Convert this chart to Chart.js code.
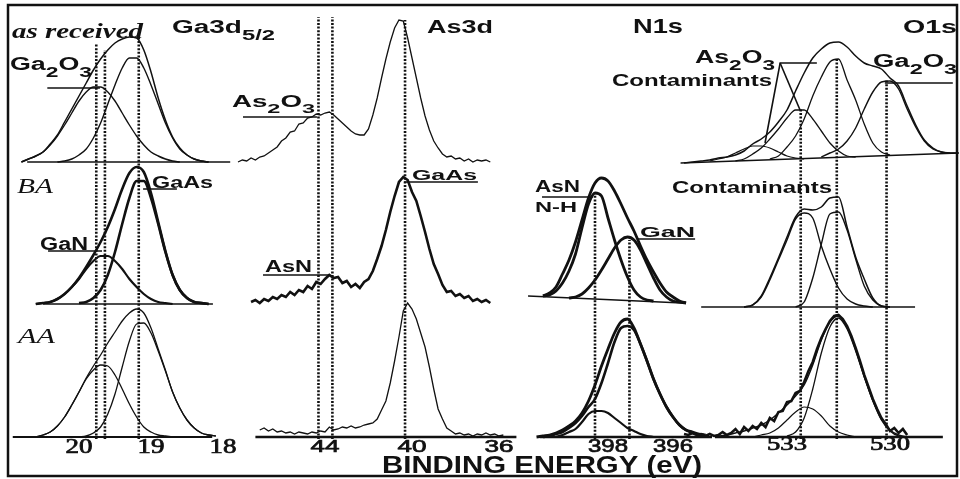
<!DOCTYPE html>
<html>
<head>
<meta charset="utf-8">
<title>XPS Ga3d / As3d / N1s / O1s</title>
<script src="https://cdn.jsdelivr.net/npm/chart.js@4.4.1/dist/chart.umd.min.js"></script>
<style>
  html, body { margin: 0; padding: 0; background: #fff; }
  #xps { display: block; }
</style>
</head>
<body>
<canvas id="xps" width="960" height="479"></canvas>
<script>
const _ = null;

// ---------- Ga3d 5/2 (binding energy, eV) ----------
const gaEv = [20.9,20.8,20.7,20.6,20.5,20.4,20.3,20.2,20.1,20.0,19.9,19.8,19.7,19.6,19.5,19.4,19.3,19.2,19.1,19.0,18.9,18.8,18.7,18.6,18.5,18.4,18.3,18.2,18.1];
// as received
const gaRecEnv = [_,0,3,6,10,18,27,40,53,66,79,92,103,112,119,123,125,124,112,90,64,42,25,14,7,3,1,0,_];
const gaRecOx  = [_,0,3,6,10,17,26,37,49,61,70,75,75,70,61,49,37,26,17,10,6,3,1,0,_,_,_,_,_];
const gaRecAs  = [_,_,_,_,_,_,0,1,3,7,13,24,39,58,77,94,104,104,94,77,58,39,24,13,7,3,1,0,_];
// BA
const gaBaEnv = [_,_,_,0,1,2,5,10,17,26,37,49,62,77,95,115,131,137,132,111,82,53,29,14,6,2,1,0,_];
const gaBaAs  = [_,_,_,_,_,_,_,_,_,1,2,6,14,29,52,80,106,123,123,106,80,52,29,14,6,2,1,0,_];
const gaBaN   = [_,_,_,0,1,2,5,10,17,25,35,43,48,48,43,35,25,17,10,5,2,1,0,_,_,_,_,_,_];
// AA
const gaAaEnv = [_,_,_,0,2,5,11,20,32,45,59,71,82,94,105,116,124,128,124,109,88,67,45,29,17,9,4,2,1];
const gaAaN   = [_,_,_,0,2,5,11,20,32,45,58,67,72,71,62,48,33,20,10,5,2,1,0,_,_,_,_,_,_];
const gaAaAs  = [_,_,_,_,_,_,_,_,_,0,1,4,10,23,43,70,96,113,114,104,86,66,45,29,17,9,4,2,1];
const gaTicks = [20, 19, 18];
const gaRefEv = [19.76, 19.64, 19.17];
const gaRefTop = [394, 387, 404];

// ---------- As3d ----------
const asEv = [48.0,47.8,47.6,47.4,47.2,47.0,46.8,46.6,46.4,46.2,46.0,45.8,45.6,45.4,45.2,45.0,44.8,44.6,44.4,44.2,44.0,43.8,43.6,43.4,43.2,43.0,42.8,42.6,42.4,42.2,42.0,41.8,41.6,41.4,41.2,41.0,40.8,40.6,40.4,40.2,40.0,39.8,39.6,39.4,39.2,39.0,38.8,38.6,38.4,38.2,38.0,37.8,37.6,37.4,37.2,37.0,36.8,36.6,36.4,36.2,36.0,35.8];
const asRec = [0,2,1,4,2,5,6,9,12,15,21,24,30,31,38,39,44,45,48,47,49,50,47,43,39,35,31,28,27,27,33,47,64,84,103,120,134,142,141,124,104,84,64,46,32,21,14,8,5,6,3,4,1,3,0,2,1,2,0,_,_,_];
const asBa  = [_,_,_,2,4,1,5,3,7,5,9,7,12,9,14,12,18,15,22,20,25,29,26,27,21,23,17,20,16,22,25,33,45,58,74,92,108,122,127,124,112,103,88,72,55,40,30,19,12,13,8,10,6,8,3,5,2,4,1,_,_,_];
const asAa  = [_,_,_,_,_,7,9,6,8,5,6,4,5,3,5,4,3,5,4,6,5,10,7,8,10,9,11,9,10,12,13,14,18,27,36,54,76,100,126,134,128,118,104,90,70,48,28,18,9,6,3,4,2,3,1,3,2,4,2,3,1,2];
const asTicks = [44, 40, 36];
const asRefEv = [44.3, 43.66, 40.32];
const asRefTop = [420, 420, 417];

// ---------- N1s ----------
const nEv = [400.6,400.4,400.2,400.0,399.8,399.6,399.4,399.2,399.0,398.8,398.6,398.4,398.2,398.0,397.8,397.6,397.4,397.2,397.0,396.8,396.6,396.4,396.2,396.0,395.8,395.6,395.4,395.2,395.0,394.8];
const nBaEnv = [_,_,_,8,11,17,30,44,62,84,106,121,126,123,113,100,86,73,58,44,32,21,12,7,3,1,_,_,_,_];
const nBaAsN = [_,_,_,8,9,13,21,33,50,76,100,111,108,86,64,44,27,14,7,4,3,_,_,_,_,_,_,_,_,_];
const nBaGaN = [_,_,_,_,_,_,_,6,7,10,16,24,34,45,56,64,67,64,54,40,26,14,7,3,2,1,_,_,_,_];
const nAaEnv = [_,_,0,1,2,4,7,11,16,24,36,52,71,88,104,115,118,109,93,76,58,43,30,20,12,7,5,3,2,_];
const nAaFit = [_,_,_,0,1,3,5,9,14,21,30,38,54,74,95,109,111,107,93,76,58,43,30,20,12,7,4,2,1,_];
const nAaSmall = [_,_,_,_,_,0,2,5,8,15,23,26,26,24,19,14,9,6,3,1,0,_,_,_,_,_,_,_,_,_];
const nTicks = [398, 396];
const nRefEv = [398.4, 397.34];
const nRefTop = [244, 197];

// ---------- O1s ----------
const oEv = [536.0,535.75,535.5,535.25,535.0,534.75,534.5,534.25,534.0,533.75,533.5,533.25,533.0,532.75,532.5,532.25,532.0,531.75,531.5,531.25,531.0,530.75,530.5,530.25,530.0,529.75,529.5,529.25,529.0,528.75,528.5,528.25,528.0];
const oRecEnv  = [-1,0,1,2,4,5,7,11,18,23,30,40,52,71,89,104,113,119,120,115,106,99,96,93,84,76,56,37,22,14,10,9,9];
const oRecMain = [_,_,_,_,_,_,_,_,_,_,3,6,15,26,43,66,85,100,103,82,62,38,19,10,7,_,_,_,_,_,_,_,_];
const oRecGaOx = [_,_,_,_,_,_,_,_,_,_,_,_,_,_,_,_,5,9,13,21,34,53,70,80,81,73,53,35,21,13,10,9,_];
const oRecAsOx = [_,_,_,_,_,_,1,3,8,14,23,33,44,52,52,43,31,19,11,6,5,_,_,_,_,_,_,_,_,_,_,_,_];
const oRecCont = [_,_,_,1,3,5,9,13,16,16,14,10,6,4,3,_,_,_,_,_,_,_,_,_,_,_,_,_,_,_,_,_,_];
const oBaEnv = [_,_,_,_,_,_,_,-3,-1,8,26,46,67,87,95,94,97,106,107,77,47,25,6,-2,-3,_,_,_,_,_,_,_,_];
const oBaC1  = [_,_,_,_,_,_,_,-3,-1,7,24,44,64,85,91,86,58,35,16,5,0,-2,-3,_,_,_,_,_,_,_,_,_,_];
const oBaC2  = [_,_,_,_,_,_,_,_,_,_,_,_,_,-3,2,26,60,90,92,74,45,18,4,-2,-3,_,_,_,_,_,_,_,_];
const oFineEv = [536.0,535.875,535.75,535.625,535.5,535.375,535.25,535.125,535.0,534.875,534.75,534.625,534.5,534.375,534.25,534.125,534.0,533.875,533.75,533.625,533.5,533.375,533.25,533.125,533.0,532.875,532.75,532.625,532.5,532.375,532.25,532.125,532.0,531.875,531.75,531.625,531.5,531.375,531.25,531.125,531.0,530.875,530.75,530.625,530.5,530.375,530.25,530.125,530.0,529.875,529.75,529.625,529.5];
const oAaData = [3,2,4,2,3,1,3,1,2,5,2,4,8,3,10,6,11,8,14,10,19,16,25,26,35,36,44,46,55,66,75,88,99,108,116,121,122,118,111,101,89,76,62,50,38,28,19,13,6,9,4,8,2];
const oAaFit   = [_,_,_,_,1,2,4,6,9,12,17,24,32,41,52,72,97,115,121,110,88,61,37,18,7,2,0,_,_,_,_,_,_];
const oAaMain  = [_,_,_,_,_,_,_,_,_,_,_,_,1,5,19,48,84,110,119,108,86,60,36,17,6,1,0,_,_,_,_,_,_];
const oAaSmall = [_,_,_,_,_,_,_,_,0,2,4,9,17,25,30,28,21,11,5,2,0,_,_,_,_,_,_,_,_,_,_,_,_];
const oTicks = [533, 530];
const oRefEv = [532.6, 531.55, 530.1];
const oRefTop = [328, 379, 357];

// ---------- layout ----------
const W = 960, H = 479;
const INK = '#111';
const SANS = '"Liberation Sans", Arial, sans-serif';
const SERIF = '"Liberation Serif", "Times New Roman", serif';
// where one energy sits on the page and how many px per eV, per panel column
const cols = {
  xGa: { ev: 20, px: 79, k: 72 },
  xAs: { ev: 44, px: 325, k: 21.75 },
  xN:  { ev: 398, px: 608, k: 32.5 },
  xO:  { ev: 533, px: 787, k: 34.33 }
};
// baseline of each row of spectra (as received, BA, AA)
const rows = { y1: 162, y2: 304, y3: 437 };

function pts(ev, vals) {
  const out = [];
  vals.forEach((v, i) => { if (v !== null) out.push({ x: ev[i], y: v }); });
  return out;
}
function curve(xId, yId, ev, vals, w, smooth) {
  return {
    data: pts(ev, vals), xAxisID: xId, yAxisID: yId, showLine: true,
    borderColor: INK, borderWidth: w, pointRadius: 0, fill: false,
    tension: smooth ? 0.3 : 0, cubicInterpolationMode: smooth ? 'monotone' : 'default'
  };
}
function seg(xId, yId, xs, ys, w, dash) {
  return {
    data: xs.map((x, i) => ({ x: x, y: ys[i] })), xAxisID: xId, yAxisID: yId,
    showLine: true, borderColor: INK, borderWidth: w, pointRadius: 0, fill: false,
    tension: 0, borderDash: dash || [], borderCapStyle: 'butt'
  };
}
function refLines(xId, evs, tops) {
  return evs.map((e, i) => seg(xId, 'y3', [e, e], [-2, tops[i]], 2.6, [2, 1.6]));
}

// label leader / underline strokes, in panel data units
const leaders = [
  ['xGa', 'y1', [20.44, 19.71], [74, 74]],
  ['xGa', 'y2', [19.11, 18.64], [115, 115]],
  ['xGa', 'y2', [20.43, 19.68], [53, 53]],
  ['xAs', 'y1', [47.77, 44.37], [45, 45]],
  ['xAs', 'y2', [40.37, 36.97], [122, 122]],
  ['xAs', 'y2', [46.85, 43.77], [29, 29]],
  ['xN',  'y2', [400.03, 398.46], [107, 107]],
  ['xN',  'y2', [397.08, 395.32], [65, 65]],
  ['xO',  'y1', [532.13, 533.2, 533.64], [99, 99, 19]],
  ['xO',  'y1', [533.2, 532.62], [99, 52]],
  ['xO',  'y1', [530.15, 528.17], [79, 79]]
];

const datasets = [
  // Ga3d
  seg('xGa', 'y1', [20.72, 17.9], [0, 0], 1.4),
  curve('xGa', 'y1', gaEv, gaRecEnv, 1.5, true),
  curve('xGa', 'y1', gaEv, gaRecOx, 1.4, true),
  curve('xGa', 'y1', gaEv, gaRecAs, 1.4, true),
  seg('xGa', 'y2', [20.5, 18.14], [0, 0], 1.6),
  curve('xGa', 'y2', gaEv, gaBaEnv, 2.6, true),
  curve('xGa', 'y2', gaEv, gaBaAs, 2.6, true),
  curve('xGa', 'y2', gaEv, gaBaN, 2.2, true),
  seg('xGa', 'y3', [20.92, 18.15], [0, 0], 2.0),
  curve('xGa', 'y3', gaEv, gaAaEnv, 1.3, true),
  curve('xGa', 'y3', gaEv, gaAaN, 1.3, true),
  curve('xGa', 'y3', gaEv, gaAaAs, 1.3, true),
  ...refLines('xGa', gaRefEv, gaRefTop),
  // As3d
  curve('xAs', 'y1', asEv, asRec, 1.3, false),
  curve('xAs', 'y2', asEv, asBa, 2.6, false),
  seg('xAs', 'y3', [47.2, 35.2], [0, 0], 2.4),
  curve('xAs', 'y3', asEv, asAa, 1.3, false),
  ...refLines('xAs', asRefEv, asRefTop),
  // N1s
  seg('xN', 'y2', [400.46, 395.72], [8, 1], 1.6),
  curve('xN', 'y2', nEv, nBaEnv, 2.8, true),
  curve('xN', 'y2', nEv, nBaAsN, 2.8, true),
  curve('xN', 'y2', nEv, nBaGaN, 2.8, true),
  seg('xN', 'y3', [400.1, 394.8], [0, 0], 2.4),
  curve('xN', 'y3', nEv, nAaEnv, 2.8, true),
  curve('xN', 'y3', nEv, nAaFit, 2.6, true),
  curve('xN', 'y3', nEv, nAaSmall, 2.2, true),
  ...refLines('xN', nRefEv, nRefTop),
  // O1s
  seg('xO', 'y1', [536.1, 528.0], [-1, 9], 1.6),
  curve('xO', 'y1', oEv, oRecEnv, 1.5, true),
  curve('xO', 'y1', oEv, oRecMain, 1.3, true),
  curve('xO', 'y1', oEv, oRecGaOx, 1.4, true),
  curve('xO', 'y1', oEv, oRecAsOx, 1.3, true),
  curve('xO', 'y1', oEv, oRecCont, 1.2, true),
  seg('xO', 'y2', [535.5, 529.27], [-3, -3], 1.6),
  curve('xO', 'y2', oEv, oBaEnv, 1.5, true),
  curve('xO', 'y2', oEv, oBaC1, 1.4, true),
  curve('xO', 'y2', oEv, oBaC2, 1.4, true),
  seg('xO', 'y3', [535.1, 528.46], [0, 0], 2.5),
  curve('xO', 'y3', oFineEv, oAaData, 2.6, false),
  curve('xO', 'y3', oEv, oAaFit, 1.4, true),
  curve('xO', 'y3', oEv, oAaMain, 1.3, true),
  curve('xO', 'y3', oEv, oAaSmall, 1.2, true),
  ...refLines('xO', oRefEv, oRefTop),
  // label leaders
  ...leaders.map(l => seg(l[0], l[1], l[2], l[3], 1.6))
];

const scales = {};
Object.keys(cols).forEach(id => {
  const c = cols[id];
  scales[id] = { type: 'linear', display: false, reverse: true, min: c.ev - (W - c.px) / c.k, max: c.ev + c.px / c.k };
});
Object.keys(rows).forEach(id => {
  scales[id] = { type: 'linear', display: false, min: rows[id] - H, max: rows[id] };
});

// texts: parts are [text, isSubscript]
const texts = [
  { parts: [['as received', 0]], x: 12, y: 38, size: 20, style: 'italic bold', fam: SERIF, w: 131 },
  { parts: [['Ga3d', 0], ['5/2', 1]], x: 172, y: 33, size: 18, w: 103 },
  { parts: [['As3d', 0]], x: 427, y: 33, size: 18, w: 66 },
  { parts: [['N1s', 0]], x: 633, y: 33, size: 21, w: 50 },
  { parts: [['O1s', 0]], x: 903, y: 33, size: 18, w: 54 },
  { parts: [['Ga', 0], ['2', 1], ['O', 0], ['3', 1]], x: 10, y: 70, size: 18, w: 82 },
  { parts: [['BA', 0]], x: 17, y: 193, size: 20, style: 'italic', fam: SERIF, w: 36 },
  { parts: [['GaAs', 0]], x: 152, y: 188, size: 16, w: 61 },
  { parts: [['GaN', 0]], x: 40, y: 250, size: 18, w: 48 },
  { parts: [['AA', 0]], x: 18, y: 343, size: 20, style: 'italic', fam: SERIF, w: 37 },
  { parts: [['As', 0], ['2', 1], ['O', 0], ['3', 1]], x: 232, y: 107, size: 16, w: 83 },
  { parts: [['GaAs', 0]], x: 412, y: 180, size: 15, w: 65 },
  { parts: [['AsN', 0]], x: 265, y: 272, size: 16, w: 47 },
  { parts: [['AsN', 0]], x: 535, y: 192, size: 16, w: 45 },
  { parts: [['N-H', 0]], x: 535, y: 212, size: 15.5, w: 42 },
  { parts: [['GaN', 0]], x: 640, y: 237, size: 15, w: 55 },
  { parts: [['As', 0], ['2', 1], ['O', 0], ['3', 1]], x: 695, y: 63, size: 18, w: 80 },
  { parts: [['Contaminants', 0]], x: 612, y: 86, size: 17, w: 160 },
  { parts: [['Ga', 0], ['2', 1], ['O', 0], ['3', 1]], x: 873, y: 67, size: 18, w: 84 },
  { parts: [['Contaminants', 0]], x: 672, y: 193, size: 16, w: 160 },
  { parts: [['BINDING ENERGY (eV)', 0]], x: 382, y: 473, size: 24, w: 320 }
];
const tickSets = [
  { axis: 'xGa', values: gaTicks, y: 453, size: 20, style: 'normal', fam: SERIF, w: 27 },
  { axis: 'xAs', values: asTicks, y: 452, size: 17, style: 'normal', fam: SANS, w: 29 },
  { axis: 'xN',  values: nTicks,  y: 452, size: 18, style: 'normal', fam: SANS, w: 40 },
  { axis: 'xO',  values: oTicks,  y: 450, size: 19, style: 'normal', fam: SERIF, w: 40 }
];

function drawText(ctx, t) {
  const sub = t.size * 0.85;
  const font = s => `${t.style || 'bold'} ${s}px ${t.fam || SANS}`;
  let natural = 0;
  t.parts.forEach(([s, isSub]) => { ctx.font = font(isSub ? sub : t.size); natural += ctx.measureText(s).width; });
  const sx = t.w ? t.w / natural : 1;
  ctx.save();
  ctx.translate(t.x, t.y);
  ctx.scale(sx, 1);
  let cx = 0;
  t.parts.forEach(([s, isSub]) => {
    ctx.font = font(isSub ? sub : t.size);
    const dy = isSub ? t.size * 0.38 : 0;
    ctx.fillText(s, cx, dy);
    if (t.heavy) ctx.strokeText(s, cx, dy);
    cx += ctx.measureText(s).width;
  });
  ctx.restore();
}

const annotate = {
  id: 'annotate',
  afterDatasetsDraw(chart) {
    const ctx = chart.ctx;
    ctx.save();
    ctx.fillStyle = INK;
    ctx.strokeStyle = INK;
    ctx.lineWidth = 0.7;
    ctx.textBaseline = 'alphabetic';
    texts.forEach(t => drawText(ctx, t));
    tickSets.forEach(ts => {
      ts.values.forEach(v => {
        const px = chart.scales[ts.axis].getPixelForValue(v);
        drawText(ctx, { parts: [[String(v), 0]], x: px - ts.w / 2, y: ts.y, size: ts.size, style: ts.style, fam: ts.fam, w: ts.w, heavy: true });
      });
    });
    // frame
    ctx.lineWidth = 2.5;
    ctx.strokeRect(8, 5, 949, 471);
    ctx.restore();
  }
};

const node = document.getElementById('xps');
const xpsChart = new Chart(node, {
  type: 'scatter',
  data: { datasets: datasets },
  options: {
    responsive: false,
    animation: false,
    events: [],
    layout: { padding: 0 },
    plugins: { legend: { display: false }, tooltip: { enabled: false } },
    scales: scales
  },
  plugins: [annotate]
});
</script>
</body>
</html>
